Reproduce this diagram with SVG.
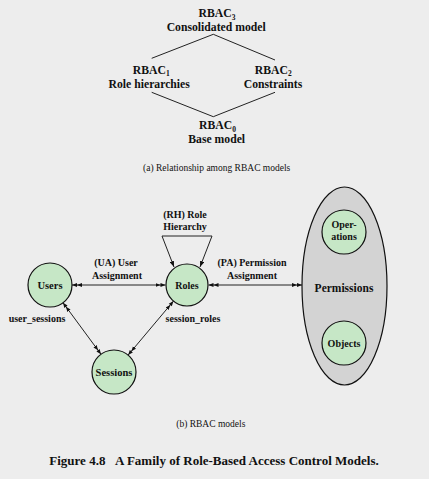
<svg xmlns="http://www.w3.org/2000/svg" width="429" height="479" viewBox="0 0 429 479" font-family="'Liberation Serif', 'DejaVu Serif', serif">
<style>
text { font-family: 'Liberation Serif', 'Times New Roman', 'DejaVu Serif', serif; fill: #111; }
.b { font-weight: bold; }
.m { text-anchor: middle; }
.top { font-size: 11.7px; font-weight: bold; }
.sub { font-size: 7.5px; }
.lbl { font-size: 10px; font-weight: bold; }
.cap { font-size: 9.5px; }
.node { fill: #c6e7c6; stroke: #111; stroke-width: 1.2; }
.edge { stroke: #222; stroke-width: 1; fill: none; }
</style>
<defs>
<marker id="dbl" viewBox="0 0 10 5" refX="10" refY="2.5" markerWidth="10" markerHeight="5" markerUnits="userSpaceOnUse" orient="auto-start-reverse">
<path d="M0,0.5 L5,2.5 L0,4.5 Z M5,0.5 L10,2.5 L5,4.5 Z" fill="#111"/>
</marker>
<marker id="one" viewBox="0 0 6 5" refX="6" refY="2.5" markerWidth="6" markerHeight="5" markerUnits="userSpaceOnUse" orient="auto-start-reverse">
<path d="M0,0.3 L6,2.5 L0,4.7 Z" fill="#111"/>
</marker>
</defs>
<rect width="429" height="479" fill="#ededed"/>

<g id="part-a">
<g id="lattice-lines">
<polyline class="edge" points="151.7,58.3 213.3,34.3 275,60"/>
<polyline class="edge" points="151.7,92.3 213.3,116.7 275,92.3"/>
</g>
<g id="rbac3">
<text class="top m" x="217" y="17.3">RBAC<tspan class="sub" dy="2.3">3</tspan></text>
<text class="top m" x="216.2" y="31">Consolidated model</text>
</g>
<g id="rbac1">
<text class="top m" x="151.2" y="74">RBAC<tspan class="sub" dy="2.3">1</tspan></text>
<text class="top m" x="149.2" y="88">Role hierarchies</text>
</g>
<g id="rbac2">
<text class="top m" x="273.3" y="74">RBAC<tspan class="sub" dy="2.3">2</tspan></text>
<text class="top m" x="273" y="88">Constraints</text>
</g>
<g id="rbac0">
<text class="top m" x="217.5" y="129.3">RBAC<tspan class="sub" dy="2.3">0</tspan></text>
<text class="top m" x="216.7" y="143">Base model</text>
</g>
<text class="cap m" x="216.7" y="170.7">(a) Relationship among RBAC models</text>
</g>

<g id="connectors">
<line class="edge" x1="72" y1="285" x2="165.5" y2="285" marker-start="url(#dbl)" marker-end="url(#dbl)"/>
<line class="edge" x1="208.5" y1="285" x2="302" y2="285" marker-start="url(#dbl)" marker-end="url(#dbl)"/>
<line class="edge" x1="63" y1="302.7" x2="101" y2="354.3" marker-start="url(#dbl)" marker-end="url(#dbl)"/>
<line class="edge" x1="173.5" y1="301.1" x2="128.1" y2="355.1" marker-start="url(#dbl)" marker-end="url(#dbl)"/>
<path class="edge" d="M174,267 L162,236 L212,236 L200,267" marker-start="url(#one)" marker-end="url(#one)"/>
<line class="edge" x1="344" y1="254.5" x2="344" y2="320.5" marker-start="url(#dbl)" marker-end="url(#dbl)"/>
<text class="lbl m" x="116" y="266">(UA) User</text>
<text class="lbl m" x="117" y="279">Assignment</text>
<text class="lbl m" x="252" y="266">(PA) Permission</text>
<text class="lbl m" x="252" y="279">Assignment</text>
<text class="lbl m" x="185" y="218">(RH) Role</text>
<text class="lbl m" x="185" y="230">Hierarchy</text>
<text class="lbl m" x="37" y="322">user_sessions</text>
<text class="lbl m" x="193" y="322">session_roles</text>
</g>

<g id="permissions">
<ellipse cx="344.5" cy="286" rx="42.5" ry="99" fill="#d3d3d3" stroke="#111" stroke-width="1.2"/>
<text class="b m" style="font-size:11.5px" x="344" y="292">Permissions</text>
</g>
<g id="users">
<circle class="node" cx="50" cy="285" r="22"/>
<text class="b m" style="font-size:10.5px" x="50" y="289">Users</text>
</g>
<g id="roles">
<circle class="node" cx="187" cy="285" r="21"/>
<text class="lbl m" x="187" y="289">Roles</text>
</g>
<g id="sessions">
<circle class="node" cx="114" cy="372" r="22"/>
<text class="b m" style="font-size:10.5px" x="114" y="376">Sessions</text>
</g>
<g id="operations">
<circle class="node" cx="344" cy="232" r="22"/>
<text class="lbl m" x="344" y="228">Oper-</text>
<text class="lbl m" x="344" y="240">ations</text>
</g>
<g id="objects">
<circle class="node" cx="344" cy="343" r="22"/>
<text class="lbl m" x="344" y="346.5">Objects</text>
</g>

<text class="cap m" x="210.8" y="427">(b) RBAC models</text>
<text class="b" style="font-size:13px" y="465"><tspan x="49.3">Figure 4.8</tspan><tspan x="115">A Family of Role-Based Access Control Models.</tspan></text>
</svg>
